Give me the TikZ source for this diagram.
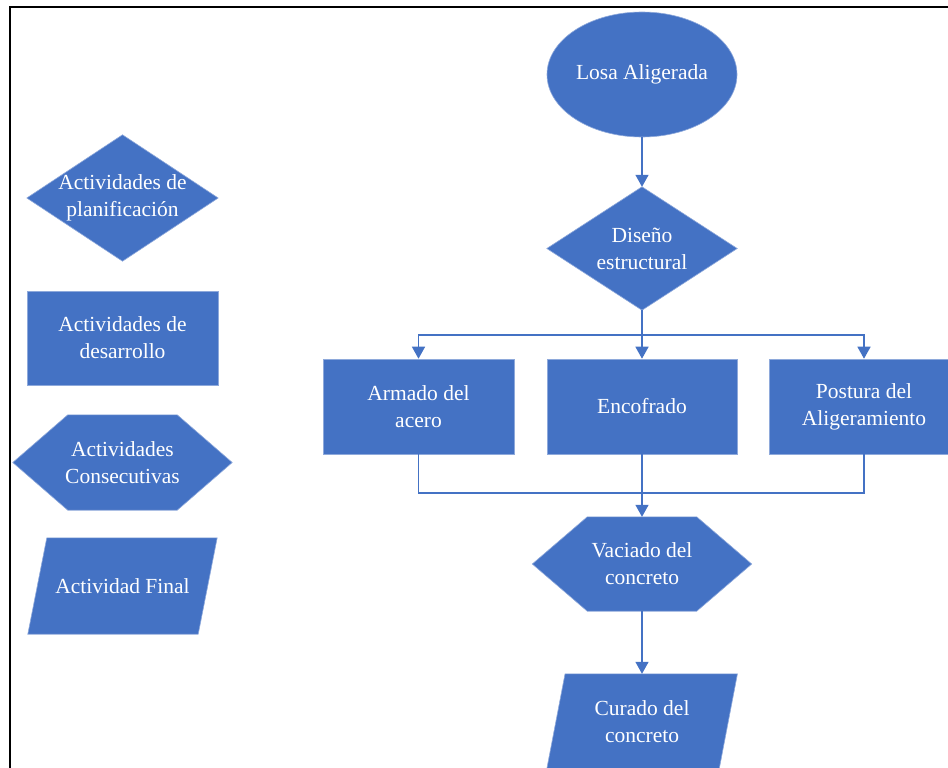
\documentclass[tikz,border=0pt]{standalone}
\usepackage{fontspec}
\setmainfont{Liberation Serif}
\newfontfamily\flowfont{Liberation Serif}
\usetikzlibrary{arrows.meta,shapes.geometric,calc,backgrounds}
\definecolor{flowblue}{HTML}{4472C4}
\definecolor{flowedge}{HTML}{8EA9DB}
\begin{document}
\begin{tikzpicture}[x=1pt,y=-1pt,
  lbl/.style={text=white, align=center, inner sep=0pt,
    font=\flowfont\fontsize{21.5}{27}\selectfont},
  shapefill/.style={fill=flowblue, draw=flowedge, line width=0.6pt},
  conn/.style={draw=flowblue, line width=1.5pt},
  arrow/.style={conn, -{Triangle[length=12pt,width=13pt]}}]

\clip (0,0) rectangle (948,768);

% outer frame
\draw[black, line width=2pt] (9.5,7.5) rectangle (1000,820);

% ---------- legend ----------
\node[lbl, minimum width=191pt, minimum height=126pt] (legdia) at (122.5,198)
  {Actividades de\\planificación};
\node[lbl, minimum width=191pt, minimum height=94pt] (legrect) at (122.5,338)
  {Actividades de\\desarrollo};
\node[lbl, minimum width=219pt, minimum height=95pt] (leghex) at (122.5,462.5)
  {Actividades\\Consecutivas};
\node[lbl, minimum width=189pt, minimum height=96pt] (legpar) at (122.5,586)
  {Actividad Final};

% ---------- flow ----------
\node[lbl, ellipse, shapefill, minimum width=190pt, minimum height=125pt] (losa)
  at (642,74.5) {Losa Aligerada};
\node[lbl, minimum width=190pt, minimum height=123pt] (diseno) at (642,248.5)
  {Diseño\\estructural};
\node[lbl, shapefill, minimum width=191pt, minimum height=95pt] (armado)
  at (418.5,406.5) {Armado del\\acero};
\node[lbl, shapefill, minimum width=190pt, minimum height=95pt] (encofrado)
  at (642,406.5) {Encofrado};
\node[lbl, shapefill, minimum width=190pt, minimum height=95pt] (postura)
  at (864,406.5) {Postura del\\Aligeramiento};
\node[lbl, minimum width=219pt, minimum height=94pt] (vaciado) at (642,564)
  {Vaciado del\\concreto};
\node[lbl, minimum width=190.5pt, minimum height=96pt] (curado) at (642,722)
  {Curado del\\concreto};

% shapes drawn behind the labels
\begin{scope}[on background layer]
  \fill[white] (0,0) rectangle (948,768);
  \filldraw[shapefill] (legdia.north) -- (legdia.east) -- (legdia.south)
    -- (legdia.west) -- cycle;
  \filldraw[shapefill] (legrect.north west) rectangle (legrect.south east);
  \filldraw[shapefill] (leghex.west) -- ($(leghex.north west)+(55,0)$)
    -- ($(leghex.north east)+(-55,0)$) -- (leghex.east)
    -- ($(leghex.south east)+(-55,0)$) -- ($(leghex.south west)+(55,0)$) -- cycle;
  \filldraw[shapefill] ($(legpar.north west)+(19,0)$) -- (legpar.north east)
    -- ($(legpar.south east)+(-19,0)$) -- (legpar.south west) -- cycle;

  \filldraw[shapefill] (diseno.north) -- (diseno.east) -- (diseno.south)
    -- (diseno.west) -- cycle;
  \filldraw[shapefill] (vaciado.west) -- ($(vaciado.north west)+(55,0)$)
    -- ($(vaciado.north east)+(-55,0)$) -- (vaciado.east)
    -- ($(vaciado.south east)+(-55,0)$) -- ($(vaciado.south west)+(55,0)$) -- cycle;
  \filldraw[shapefill] ($(curado.north west)+(18.5,0)$) -- (curado.north east)
    -- ($(curado.south east)+(-18.5,0)$) -- (curado.south west) -- cycle;
\end{scope}

% connectors
\coordinate (split) at (642,335);
\coordinate (merge) at (642,493);
\draw[arrow] (losa.south) -- (diseno.north);
\draw[arrow] (diseno.south) -- (encofrado.north);
\draw[arrow] (split) -| (armado.north);
\draw[arrow] (split) -| (postura.north);
\draw[conn] (armado.south) |- (merge);
\draw[conn] (postura.south) |- (merge);
\draw[arrow] (encofrado.south) -- (vaciado.north);
\draw[arrow] (vaciado.south) -- (curado.north);
\end{tikzpicture}
\end{document}
